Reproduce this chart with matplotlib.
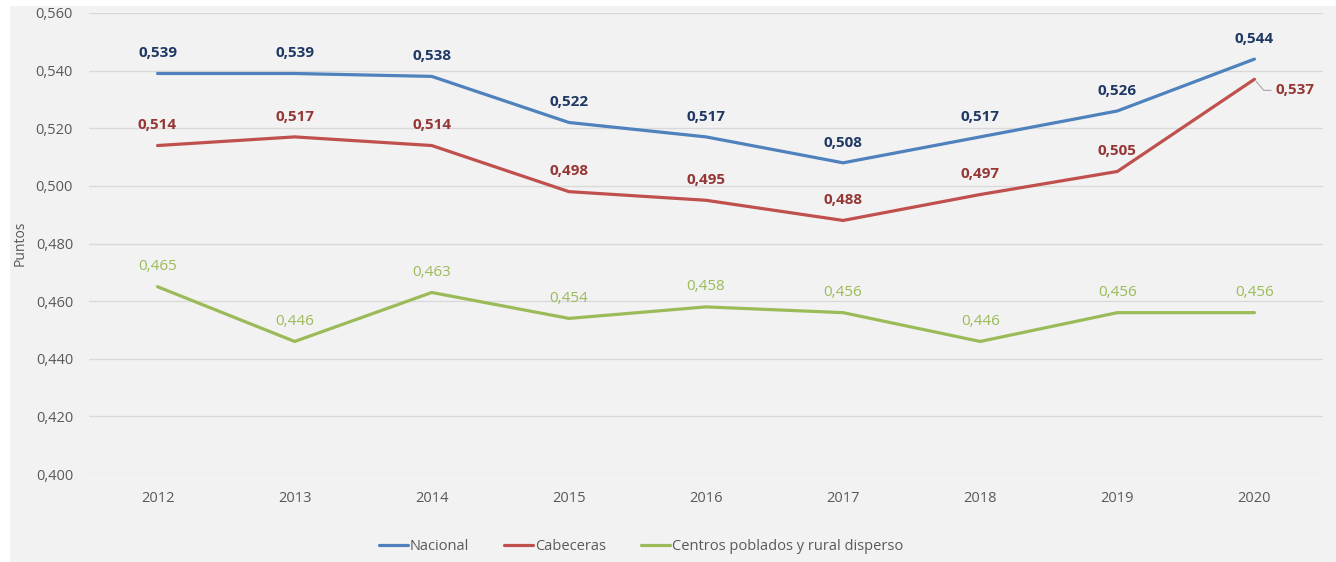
import matplotlib
matplotlib.use("Agg")
import matplotlib.pyplot as plt
from matplotlib.patches import Rectangle

years = ["2012", "2013", "2014", "2015", "2016", "2017", "2018", "2019", "2020"]
nacional = [0.539, 0.539, 0.538, 0.522, 0.517, 0.508, 0.517, 0.526, 0.544]
cabeceras = [0.514, 0.517, 0.514, 0.498, 0.495, 0.488, 0.497, 0.505, 0.537]
rural = [0.465, 0.446, 0.463, 0.454, 0.458, 0.456, 0.446, 0.456, 0.456]
series_names = ["Nacional", "Cabeceras", "Centros poblados y rural disperso"]
yticks = [0.400, 0.420, 0.440, 0.460, 0.480, 0.500, 0.520, 0.540, 0.560]

plt.rcParams['font.family'] = ['Open Sans', 'DejaVu Sans']

fig = plt.figure(figsize=(13.36, 5.62), dpi=100)
fig.patches.append(Rectangle((10/1336, 0), 1 - 10/1336, 1 - 6/562,
                             transform=fig.transFigure, facecolor='#f2f2f2',
                             edgecolor='none', zorder=-10))
ax = fig.add_axes([89/1336, 1 - 474/562, (1323 - 89)/1336, (474 - 13)/562])
ax.set_facecolor('none')

x = list(range(len(years)))
line_colors = ['#4f81bd', '#c0504d', '#9bbb59']
label_colors = ['#1f3864', '#953735', '#9bbb59']
weights = ['bold', 'bold', 'normal']
data = [nacional, cabeceras, rural]

for vals, lc, tc, w, name in zip(data, line_colors, label_colors, weights, series_names):
    ax.plot(x, vals, color=lc, lw=2.3, label=name, solid_capstyle='round', zorder=3)
    for i, v in enumerate(vals):
        if name == "Cabeceras" and i == len(vals) - 1:
            continue
        ax.annotate(f"{v:.3f}".replace('.', ','), (i, v), xytext=(0, 14.5),
                    textcoords='offset points', ha='center', va='center',
                    color=tc, fontsize=11, fontweight=w)

# leader label for last Cabeceras point
i = len(cabeceras) - 1
v = cabeceras[i]
ax.annotate(f"{v:.3f}".replace('.', ','), (i, v), xytext=(15, -8),
            textcoords='offset points', ha='left', va='center',
            color=label_colors[1], fontsize=11, fontweight='bold',
            arrowprops=dict(arrowstyle='-', color='#a6a6a6', lw=0.8,
                            connectionstyle='angle,angleA=0,angleB=-50,rad=0',
                            shrinkA=1, shrinkB=2))

ax.set_xlim(-0.5, len(years) - 0.5)
ax.set_ylim(0.400, 0.560)
ax.set_yticks(yticks)
ax.set_yticklabels([f"{t:.3f}".replace('.', ',') for t in yticks])
ax.set_xticks(x)
ax.set_xticklabels(years)
ax.tick_params(axis='both', length=0, labelsize=10.5, labelcolor='#595959')
ax.tick_params(axis='y', pad=11.5)
ax.tick_params(axis='x', pad=12)
ax.grid(axis='y', color='#d9d9d9', lw=1)
ax.set_axisbelow(True)
for s in ax.spines.values():
    s.set_visible(False)

fig.text(20/1336, 1 - 243/562, "Puntos", rotation=90, ha='center', va='center',
         fontsize=10, color='#595959')

leg = fig.legend(loc='center', bbox_to_anchor=(641/1336, 1 - 547/562), ncol=3,
                 frameon=False, fontsize=10.5, handlelength=2.0, handletextpad=0.1,
                 columnspacing=2.4)
for t in leg.get_texts():
    t.set_color('#595959')

fig.savefig("out.png", dpi=100)
